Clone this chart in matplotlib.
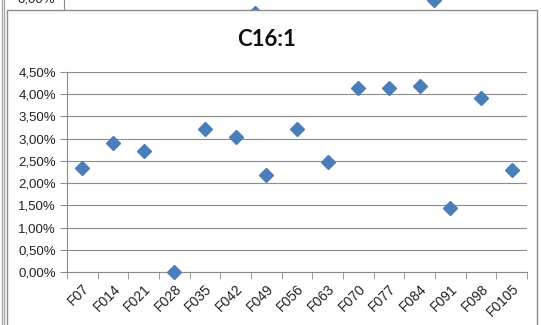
import numpy as np
import matplotlib.pyplot as plt
from matplotlib.patches import Rectangle
from matplotlib.lines import Line2D
from matplotlib.ticker import FuncFormatter, MultipleLocator

samples = ['F07', 'F014', 'F021', 'F028', 'F035', 'F042', 'F049', 'F056',
           'F063', 'F070', 'F077', 'F084', 'F091', 'F098', 'F0105']
c16_1 = [2.34, 2.90, 2.72, 0.00, 3.22, 3.04, 2.18, 3.22,
         2.48, 4.14, 4.14, 4.19, 1.44, 3.92, 2.30]

# bits of the chart sitting behind (only its bottom edge shows)
bg_x = [6.2, 12.0]
bg_y = [-0.25, 1.05]

W, H = 541, 325
blue = '#4a7ebb'
grey = '#8c8c8c'

fig = plt.figure(figsize=(W / 100, H / 100), dpi=100)

def fx(px):
    return px / W

def fy(py):
    return 1 - py / H

# background chart strip
bg = fig.add_axes([fx(64), fy(10), fx(527 - 64), 10 / H])
bg.plot(bg_x, bg_y, 'D', color=blue, ms=7.5, clip_on=True)
bg.set_xlim(0, 15)
bg.set_ylim(0, 1)
bg.set_xticks([])
bg.set_yticks([])
for s in ['top', 'right', 'bottom']:
    bg.spines[s].set_visible(False)
bg.spines['left'].set_color(grey)
fig.text(fx(55), fy(-1), '0,00%', ha='right', va='center', fontsize=9.5,
         family='Liberation Sans', color='#222222')
fig.add_artist(Line2D([fx(2), fx(2)], [0, 1], color='#aaaaaa', lw=1))
fig.add_artist(Line2D([fx(4), fx(4)], [0, 1], color='#aaaaaa', lw=1))

# front chart frame
frame = Rectangle((fx(7), -0.1), fx(537 - 7), fy(10) + 0.1, transform=fig.transFigure,
                  facecolor='white', edgecolor=grey, lw=1, zorder=1)
fig.add_artist(frame)

ax = fig.add_axes([fx(67), fy(272), fx(527 - 67), (272 - 72) / H])
ax.set_zorder(2)
ax.patch.set_alpha(0)
x = np.arange(len(samples))
ax.plot(x, c16_1, 'D', color=blue, ms=7.5, zorder=3, clip_on=False)
ax.set_xlim(-0.5, len(samples) - 0.5)
ax.set_ylim(0, 4.5)
ax.yaxis.set_major_locator(MultipleLocator(0.5))
ax.yaxis.set_major_formatter(FuncFormatter(lambda v, p: f'{v:.2f}%'.replace('.', ',')))
ax.grid(axis='y', color=grey, lw=0.8)
ax.set_axisbelow(True)
for s in ['top', 'right']:
    ax.spines[s].set_visible(False)
ax.spines['left'].set_color(grey)
ax.spines['bottom'].set_color(grey)

ax.set_xticks(x)
ax.set_xticklabels(samples, rotation=45, ha='right', rotation_mode='anchor',
                   fontsize=10, family='Liberation Sans', color='#222222')
ax.set_xticks(np.arange(len(samples) + 1) - 0.5, minor=True)
ax.tick_params(axis='x', which='major', length=0, pad=7)
ax.tick_params(axis='x', which='minor', length=5, color=grey, direction='out')
ax.tick_params(axis='y', length=5, color=grey, pad=3, labelsize=9.5)
for lab in ax.get_yticklabels():
    lab.set_family('Liberation Sans')
    lab.set_color('#222222')

fig.text(fx(267), fy(40), 'C16:1', ha='center', va='center', fontsize=16,
         fontweight='bold', family='Lato', color='#111111')

fig.savefig('out.png', dpi=100)
